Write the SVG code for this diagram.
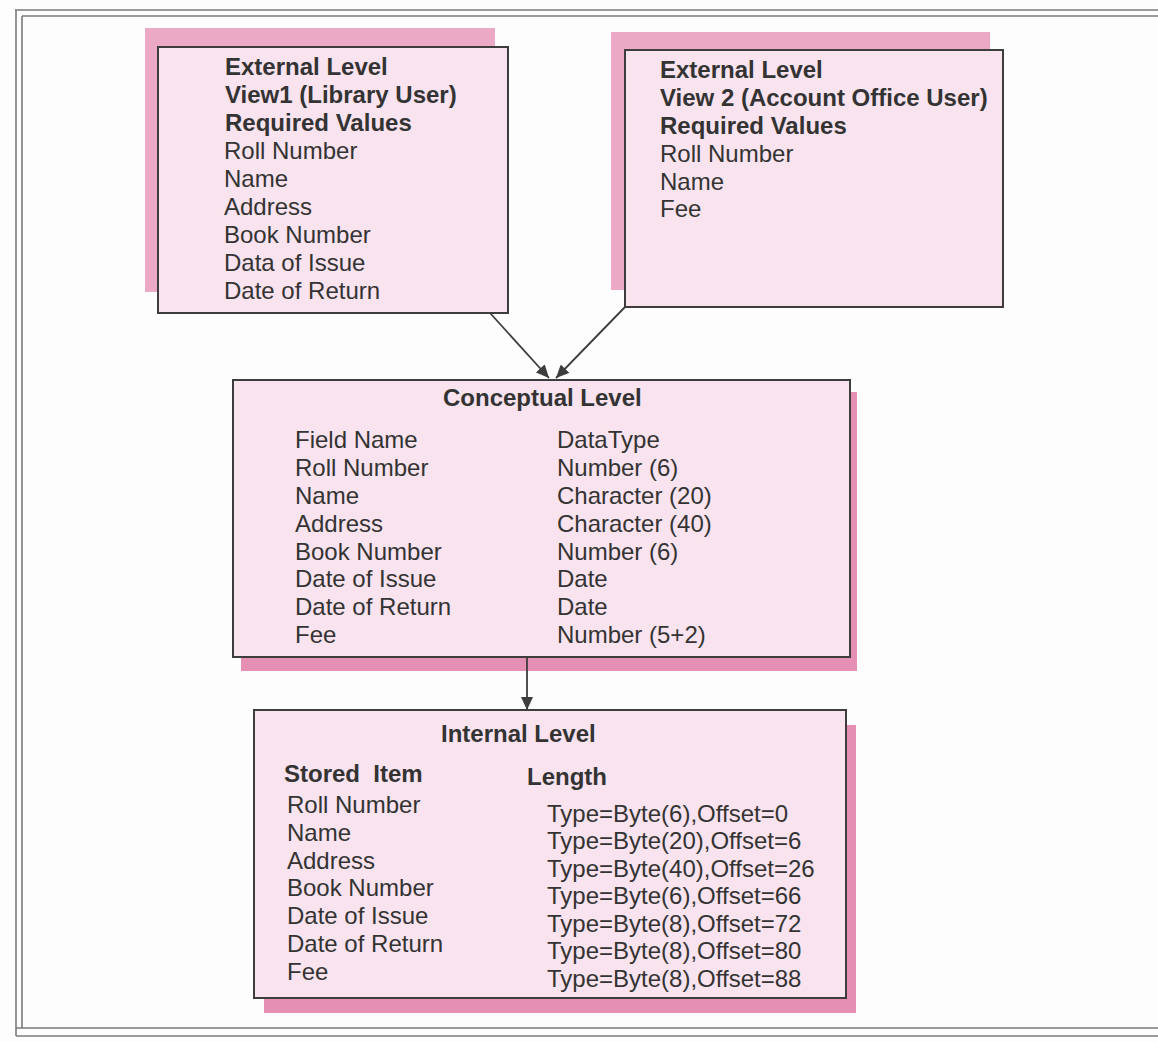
<svg xmlns="http://www.w3.org/2000/svg" width="1158" height="1042" viewBox="0 0 1158 1042">
<style>
.frame{stroke:#7a7a7a;stroke-width:1.6;fill:none}
.shadow{fill:#eba9c5;stroke:none}
.shadow2{fill:#e48fb3;stroke:none}
.box{fill:#f9e3ef;stroke:#3d3d3d;stroke-width:2}
text{font-family:"Liberation Sans",Arial,sans-serif;font-size:24px;fill:#333}
.b{font-weight:bold}
.conn{stroke:#3d3d3d;stroke-width:1.8;fill:none;marker-end:url(#ah)}
</style>
<defs>
<marker id="ah" markerUnits="userSpaceOnUse" markerWidth="14" markerHeight="12" refX="13" refY="6" orient="auto">
<path d="M0,0 L13,6 L0,12 z" fill="#3d3d3d"/>
</marker>
</defs>
<rect x="0" y="0" width="1158" height="1042" fill="#fdfdfd"/>
<g id="frame">
<line class="frame" x1="15" y1="10" x2="1158" y2="10"/>
<line class="frame" x1="22" y1="16" x2="1158" y2="16"/>
<line class="frame" x1="16" y1="10" x2="16" y2="1036"/>
<line class="frame" x1="22" y1="16" x2="22" y2="1028"/>
<line class="frame" x1="16" y1="1028" x2="1158" y2="1028"/>
<line class="frame" x1="16" y1="1036" x2="1158" y2="1036"/>
</g>
<g id="external1">
<rect class="shadow" x="145" y="28" width="350" height="264"/>
<rect class="box" x="158" y="47" width="350" height="266"/>
<text class="b" x="225" y="75">External Level</text>
<text class="b" x="225" y="103">View1 (Library User)</text>
<text class="b" x="225" y="131">Required Values</text>
<text x="224" y="159">Roll Number</text>
<text x="224" y="187">Name</text>
<text x="224" y="215">Address</text>
<text x="224" y="243">Book Number</text>
<text x="224" y="271">Data of Issue</text>
<text x="224" y="299">Date of Return</text>
</g>
<g id="external2">
<rect class="shadow" x="611" y="32" width="379" height="258"/>
<rect class="box" x="625" y="50" width="378" height="257"/>
<text class="b" x="660" y="78">External Level</text>
<text class="b" x="660" y="106">View 2 (Account Office User)</text>
<text class="b" x="660" y="134">Required Values</text>
<text x="660" y="162">Roll Number</text>
<text x="660" y="190">Name</text>
<text x="660" y="217">Fee</text>
</g>
<g id="conceptual">
<rect class="shadow2" x="241" y="392" width="616" height="279"/>
<rect class="box" x="233" y="380" width="617" height="277"/>
<text class="b" x="443" y="406">Conceptual Level</text>
<text x="295" y="448">Field Name</text>
<text x="295" y="476">Roll Number</text>
<text x="295" y="504">Name</text>
<text x="295" y="532">Address</text>
<text x="295" y="560">Book Number</text>
<text x="295" y="587">Date of Issue</text>
<text x="295" y="615">Date of Return</text>
<text x="295" y="643">Fee</text>
<text x="557" y="448">DataType</text>
<text x="557" y="476">Number (6)</text>
<text x="557" y="504">Character (20)</text>
<text x="557" y="532">Character (40)</text>
<text x="557" y="560">Number (6)</text>
<text x="557" y="587">Date</text>
<text x="557" y="615">Date</text>
<text x="557" y="643">Number (5+2)</text>
</g>
<g id="internal">
<rect class="shadow2" x="264" y="725" width="592" height="288"/>
<rect class="box" x="254" y="710" width="592" height="288"/>
<text class="b" x="441" y="742">Internal Level</text>
<text class="b" x="284" y="782" xml:space="preserve">Stored  Item</text>
<text class="b" x="527" y="785">Length</text>
<text x="287" y="813">Roll Number</text>
<text x="287" y="841">Name</text>
<text x="287" y="869">Address</text>
<text x="287" y="896">Book Number</text>
<text x="287" y="924">Date of Issue</text>
<text x="287" y="952">Date of Return</text>
<text x="287" y="980">Fee</text>
<text x="547" y="822">Type=Byte(6),Offset=0</text>
<text x="547" y="849">Type=Byte(20),Offset=6</text>
<text x="547" y="877">Type=Byte(40),Offset=26</text>
<text x="547" y="904">Type=Byte(6),Offset=66</text>
<text x="547" y="932">Type=Byte(8),Offset=72</text>
<text x="547" y="959">Type=Byte(8),Offset=80</text>
<text x="547" y="987">Type=Byte(8),Offset=88</text>
</g>
<g id="connectors">
<line class="conn" x1="490" y1="313" x2="549" y2="378"/>
<line class="conn" x1="625" y1="307" x2="556" y2="378"/>
<line class="conn" x1="527" y1="657" x2="527" y2="710"/>
</g>
</svg>
